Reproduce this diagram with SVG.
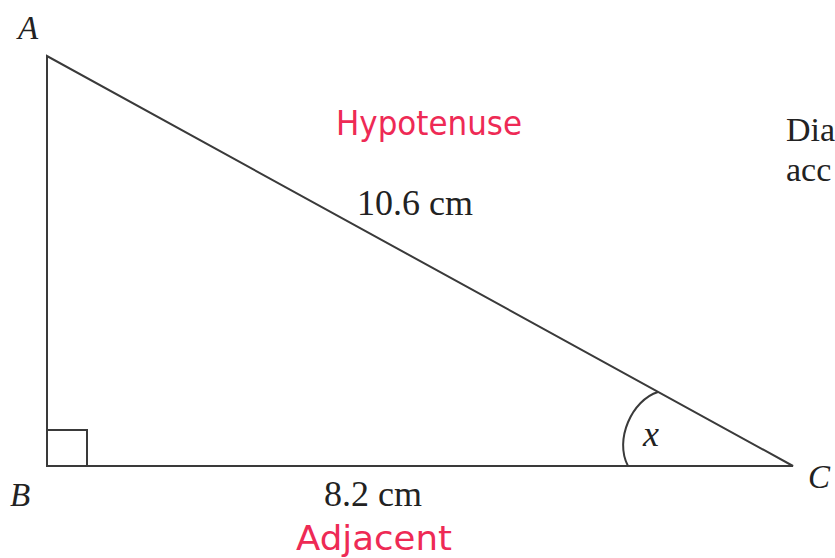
<svg xmlns="http://www.w3.org/2000/svg" width="835" height="558" viewBox="0 0 835 558">
<style>
.ln{fill:none;stroke:#3a3a3a;stroke-width:2}
.lab{font-family:"Liberation Serif",serif;font-style:italic;font-size:33px;fill:#222}
.meas{font-family:"Liberation Serif",serif;font-size:36px;fill:#222}
.hand{font-family:"DejaVu Sans",sans-serif;font-size:33px;fill:#ee2a55;font-weight:normal}
</style>
<rect width="835" height="558" fill="#ffffff"/>
<g id="triangle">
<path class="ln" d="M47,56 L47,466 L793,466 Z"/>
<path class="ln" d="M47,430 L87,430 L87,466"/>
<path class="ln" d="M658,392 C632,400 614,440 628,466"/>
</g>
<g id="labels">
<text class="lab" x="18" y="39">A</text>
<text class="lab" x="10" y="506">B</text>
<text class="lab" x="808" y="488">C</text>
<text class="lab" x="643" y="446" style="font-size:36px">x</text>
<text class="meas" x="357" y="215">10.6 cm</text>
<text class="meas" x="324" y="506">8.2 cm</text>
<text class="meas" x="786" y="141" style="font-size:34px">Dia</text>
<text class="meas" x="786" y="181" style="font-size:34px">acc</text>
</g>
<g id="annotations">
<text class="hand" x="336" y="135" textLength="186" lengthAdjust="spacingAndGlyphs">Hypotenuse</text>
<text class="hand" x="296" y="550" textLength="156" lengthAdjust="spacingAndGlyphs">Adjacent</text>
</g>
</svg>
